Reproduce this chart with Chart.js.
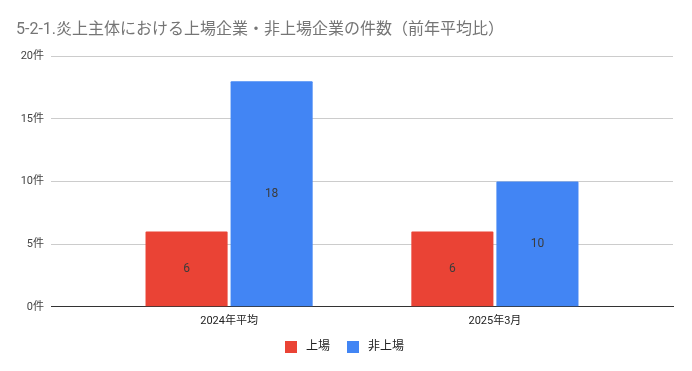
<!DOCTYPE html>
<html>
<head>
<meta charset="utf-8">
<script src="https://cdn.jsdelivr.net/npm/chart.js@4.4.1/dist/chart.umd.min.js"></script>
<style>
  html, body { margin: 0; padding: 0; background: #fff; }
  #wrap { width: 692px; height: 371px; }
</style>
</head>
<body>
<div id="wrap"><canvas id="c"></canvas></div>
<script>
/* 炎上主体: listed vs unlisted companies, grouped bars */

const CATEGORIES = ["2024年平均", "2025年3月"];
const LISTED = [6, 6];
const UNLISTED = [18, 10];
const SERIES_NAMES = ["上場", "非上場"];
const Y_TICKS = [0, 5, 10, 15, 20];

const FONT = "Roboto, 'Noto Sans CJK JP', sans-serif";
Chart.defaults.font.family = FONT;

// category positions 1..n on a linear axis (Google-style spacing)
const toPoints = (vals) => vals.map((v, i) => ({ x: i + 1, y: v }));

/* ---- value labels centred inside each bar ---- */
const barLabels = {
  id: "barLabels",
  afterDatasetsDraw(chart) {
    const { ctx } = chart;
    ctx.save();
    ctx.font = "12px " + FONT;
    ctx.fillStyle = "#3c3c3c";
    ctx.textAlign = "center";
    ctx.textBaseline = "middle";
    chart.data.datasets.forEach((ds, di) => {
      chart.getDatasetMeta(di).data.forEach((bar, i) => {
        const mid = (bar.y + bar.base) / 2;
        ctx.fillText(String(ds.data[i].y), bar.x, mid);
      });
    });
    ctx.restore();
  },
};

// wider gaps in the legend row without raising its height
function legendItems(chart) {
  const items = Chart.defaults.plugins.legend.labels.generateLabels(chart);
  items.forEach((it, i) => {
    it.text = " " + it.text + (i < items.length - 1 ? "\u3000" : "");
  });
  return items;
}

new Chart(document.getElementById("c"), {
  type: "bar",
  data: {
    datasets: [
      { label: SERIES_NAMES[0], data: toPoints(LISTED), backgroundColor: "#ea4335", borderRadius: { topLeft: 1, topRight: 1 }, borderSkipped: "bottom" },
      { label: SERIES_NAMES[1], data: toPoints(UNLISTED), backgroundColor: "#4285f4", borderRadius: { topLeft: 1, topRight: 1 }, borderSkipped: "bottom" },
    ],
  },
  options: {
    responsive: true, maintainAspectRatio: false, animation: false,
    categoryPercentage: 0.64, barPercentage: 0.965,
    layout: { padding: { left: 16, right: 19, top: 0, bottom: 8 } },
    plugins: {
      title: {
        display: true, align: "start", text: "5-2-1.炎上主体における上場企業・非上場企業の件数（前年平均比）",
        color: "#757575", font: { size: 16, weight: "normal" }, padding: { top: 20, bottom: 17 },
      },
      legend: {
        position: "bottom",
        labels: { boxWidth: 12, boxHeight: 12, padding: 5, color: "#222", font: { size: 12 }, generateLabels: legendItems },
      },
      tooltip: { enabled: false },
    },
    scales: {
      x: {
        type: "linear", offset: false, min: 0.33, max: CATEGORIES.length + 0.67,
        afterBuildTicks: (s) => { s.ticks = CATEGORIES.map((_, i) => ({ value: i + 1 })); },
        ticks: { callback: (v) => CATEGORIES[v - 1] || "", color: "#222", font: { size: 11 }, padding: 8 },
        grid: { display: false, drawTicks: false, offset: false },
        border: { display: true, color: "#333", width: 1 },
      },
      y: {
        min: 0, max: 20,
        afterBuildTicks: (s) => { s.ticks = Y_TICKS.map((v) => ({ value: v })); },
        afterFit: (s) => { s.width = 35; },
        ticks: { callback: (v) => v + "件", color: "#444", font: { size: 11 }, padding: 7 },
        grid: { color: (c) => (c.tick.value === 0 ? "#333" : "#cccccc"), drawTicks: false },
        border: { display: false },
      },
    },
  },
  plugins: [barLabels],
});
</script>
</body>
</html>
